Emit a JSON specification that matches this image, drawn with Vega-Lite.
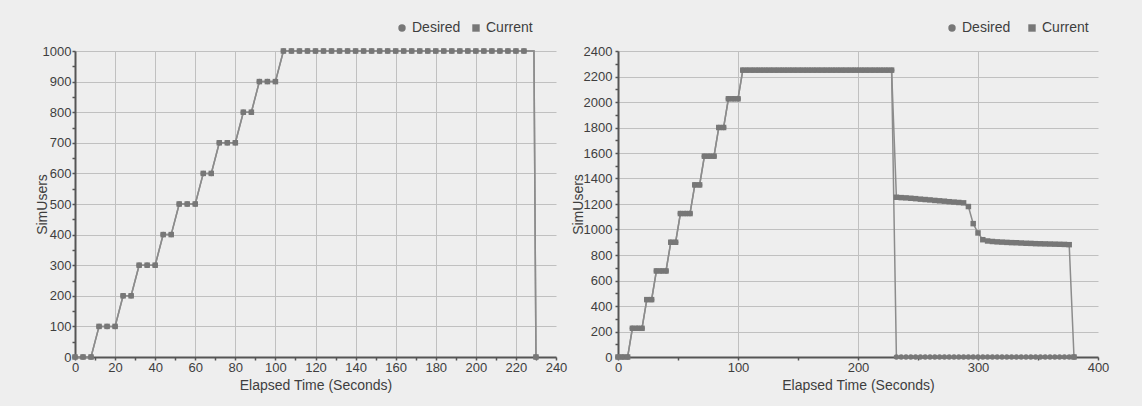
{
  "$schema": "https://vega.github.io/schema/vega-lite/v6.json",
  "background": "#eeeeee",
  "autosize": {"type": "pad"},
  "padding": {"left": 35, "top": 21, "right": 40, "bottom": 30},
  "spacing": 62,
  "bounds": "flush",
  "resolve": {"scale": {"shape": "independent"}, "legend": {"shape": "independent"}},
  "config": {
    "view": {"stroke": null},
    "font": "Liberation Sans",
    "axis": {
      "labelFont": "Liberation Sans",
      "titleFont": "Liberation Sans",
      "labelFontSize": 13,
      "titleFontSize": 14,
      "titleFontWeight": "normal",
      "labelColor": "#3e3e3e",
      "titleColor": "#3e3e3e",
      "domainColor": "#555555",
      "domainWidth": 2,
      "tickColor": "#555555",
      "tickSize": 3,
      "tickWidth": 1.5,
      "gridColor": "#c0c0c0",
      "gridWidth": 1,
      "labelOverlap": false,
      "labelFlush": false,
      "labelPadding": 1,
      "titlePadding": 4,
      "format": "d"
    },
    "legend": {
      "orient": "none",
      "direction": "horizontal",
      "labelFont": "Liberation Sans",
      "labelFontSize": 14,
      "labelColor": "#3e3e3e",
      "symbolSize": 55,
      "symbolStrokeWidth": 0,
      "padding": 0,
      "labelOffset": 3
    }
  },
  "datasets": {
    "left": [
      {"t": 0, "Desired": 0, "Current": 0},
      {"t": 4, "Desired": 0, "Current": 0},
      {"t": 8, "Desired": 0, "Current": 0},
      {"t": 12, "Desired": 100, "Current": 100},
      {"t": 16, "Desired": 100, "Current": 100},
      {"t": 20, "Desired": 100, "Current": 100},
      {"t": 24, "Desired": 200, "Current": 200},
      {"t": 28, "Desired": 200, "Current": 200},
      {"t": 32, "Desired": 300, "Current": 300},
      {"t": 36, "Desired": 300, "Current": 300},
      {"t": 40, "Desired": 300, "Current": 300},
      {"t": 44, "Desired": 400, "Current": 400},
      {"t": 48, "Desired": 400, "Current": 400},
      {"t": 52, "Desired": 500, "Current": 500},
      {"t": 56, "Desired": 500, "Current": 500},
      {"t": 60, "Desired": 500, "Current": 500},
      {"t": 64, "Desired": 600, "Current": 600},
      {"t": 68, "Desired": 600, "Current": 600},
      {"t": 72, "Desired": 700, "Current": 700},
      {"t": 76, "Desired": 700, "Current": 700},
      {"t": 80, "Desired": 700, "Current": 700},
      {"t": 84, "Desired": 800, "Current": 800},
      {"t": 88, "Desired": 800, "Current": 800},
      {"t": 92, "Desired": 900, "Current": 900},
      {"t": 96, "Desired": 900, "Current": 900},
      {"t": 100, "Desired": 900, "Current": 900},
      {"t": 104, "Desired": 1000, "Current": 1000},
      {"t": 108, "Desired": 1000, "Current": 1000},
      {"t": 112, "Desired": 1000, "Current": 1000},
      {"t": 116, "Desired": 1000, "Current": 1000},
      {"t": 120, "Desired": 1000, "Current": 1000},
      {"t": 124, "Desired": 1000, "Current": 1000},
      {"t": 128, "Desired": 1000, "Current": 1000},
      {"t": 132, "Desired": 1000, "Current": 1000},
      {"t": 136, "Desired": 1000, "Current": 1000},
      {"t": 140, "Desired": 1000, "Current": 1000},
      {"t": 144, "Desired": 1000, "Current": 1000},
      {"t": 148, "Desired": 1000, "Current": 1000},
      {"t": 152, "Desired": 1000, "Current": 1000},
      {"t": 156, "Desired": 1000, "Current": 1000},
      {"t": 160, "Desired": 1000, "Current": 1000},
      {"t": 164, "Desired": 1000, "Current": 1000},
      {"t": 168, "Desired": 1000, "Current": 1000},
      {"t": 172, "Desired": 1000, "Current": 1000},
      {"t": 176, "Desired": 1000, "Current": 1000},
      {"t": 180, "Desired": 1000, "Current": 1000},
      {"t": 184, "Desired": 1000, "Current": 1000},
      {"t": 188, "Desired": 1000, "Current": 1000},
      {"t": 192, "Desired": 1000, "Current": 1000},
      {"t": 196, "Desired": 1000, "Current": 1000},
      {"t": 200, "Desired": 1000, "Current": 1000},
      {"t": 204, "Desired": 1000, "Current": 1000},
      {"t": 208, "Desired": 1000, "Current": 1000},
      {"t": 212, "Desired": 1000, "Current": 1000},
      {"t": 216, "Desired": 1000, "Current": 1000},
      {"t": 220, "Desired": 1000, "Current": 1000},
      {"t": 224, "Desired": 1000, "Current": 1000},
      {"t": 229, "Desired": 1000, "Current": 1000},
      {"t": 230, "Desired": 0, "Current": 0}
    ],
    "right": [
      {"t": 0, "Desired": 0, "Current": 0},
      {"t": 4, "Desired": 0, "Current": 0},
      {"t": 8, "Desired": 0, "Current": 0},
      {"t": 12, "Desired": 225, "Current": 225},
      {"t": 16, "Desired": 225, "Current": 225},
      {"t": 20, "Desired": 225, "Current": 225},
      {"t": 24, "Desired": 450, "Current": 450},
      {"t": 28, "Desired": 450, "Current": 450},
      {"t": 32, "Desired": 675, "Current": 675},
      {"t": 36, "Desired": 675, "Current": 675},
      {"t": 40, "Desired": 675, "Current": 675},
      {"t": 44, "Desired": 900, "Current": 900},
      {"t": 48, "Desired": 900, "Current": 900},
      {"t": 52, "Desired": 1125, "Current": 1125},
      {"t": 56, "Desired": 1125, "Current": 1125},
      {"t": 60, "Desired": 1125, "Current": 1125},
      {"t": 64, "Desired": 1350, "Current": 1350},
      {"t": 68, "Desired": 1350, "Current": 1350},
      {"t": 72, "Desired": 1575, "Current": 1575},
      {"t": 76, "Desired": 1575, "Current": 1575},
      {"t": 80, "Desired": 1575, "Current": 1575},
      {"t": 84, "Desired": 1800, "Current": 1800},
      {"t": 88, "Desired": 1800, "Current": 1800},
      {"t": 92, "Desired": 2025, "Current": 2025},
      {"t": 96, "Desired": 2025, "Current": 2025},
      {"t": 100, "Desired": 2025, "Current": 2025},
      {"t": 104, "Desired": 2250, "Current": 2250},
      {"t": 108, "Desired": 2250, "Current": 2250},
      {"t": 112, "Desired": 2250, "Current": 2250},
      {"t": 116, "Desired": 2250, "Current": 2250},
      {"t": 120, "Desired": 2250, "Current": 2250},
      {"t": 124, "Desired": 2250, "Current": 2250},
      {"t": 128, "Desired": 2250, "Current": 2250},
      {"t": 132, "Desired": 2250, "Current": 2250},
      {"t": 136, "Desired": 2250, "Current": 2250},
      {"t": 140, "Desired": 2250, "Current": 2250},
      {"t": 144, "Desired": 2250, "Current": 2250},
      {"t": 148, "Desired": 2250, "Current": 2250},
      {"t": 152, "Desired": 2250, "Current": 2250},
      {"t": 156, "Desired": 2250, "Current": 2250},
      {"t": 160, "Desired": 2250, "Current": 2250},
      {"t": 164, "Desired": 2250, "Current": 2250},
      {"t": 168, "Desired": 2250, "Current": 2250},
      {"t": 172, "Desired": 2250, "Current": 2250},
      {"t": 176, "Desired": 2250, "Current": 2250},
      {"t": 180, "Desired": 2250, "Current": 2250},
      {"t": 184, "Desired": 2250, "Current": 2250},
      {"t": 188, "Desired": 2250, "Current": 2250},
      {"t": 192, "Desired": 2250, "Current": 2250},
      {"t": 196, "Desired": 2250, "Current": 2250},
      {"t": 200, "Desired": 2250, "Current": 2250},
      {"t": 204, "Desired": 2250, "Current": 2250},
      {"t": 208, "Desired": 2250, "Current": 2250},
      {"t": 212, "Desired": 2250, "Current": 2250},
      {"t": 216, "Desired": 2250, "Current": 2250},
      {"t": 220, "Desired": 2250, "Current": 2250},
      {"t": 224, "Desired": 2250, "Current": 2250},
      {"t": 228, "Desired": 2250, "Current": 2250},
      {"t": 232, "Desired": 0, "Current": 1253},
      {"t": 236, "Desired": 0, "Current": 1250},
      {"t": 240, "Desired": 0, "Current": 1248},
      {"t": 244, "Desired": 0, "Current": 1245},
      {"t": 248, "Desired": 0, "Current": 1242},
      {"t": 252, "Desired": 0, "Current": 1238},
      {"t": 256, "Desired": 0, "Current": 1235},
      {"t": 260, "Desired": 0, "Current": 1232},
      {"t": 264, "Desired": 0, "Current": 1228},
      {"t": 268, "Desired": 0, "Current": 1225},
      {"t": 272, "Desired": 0, "Current": 1222},
      {"t": 276, "Desired": 0, "Current": 1218},
      {"t": 280, "Desired": 0, "Current": 1215},
      {"t": 284, "Desired": 0, "Current": 1212},
      {"t": 288, "Desired": 0, "Current": 1209},
      {"t": 292, "Desired": 0, "Current": 1180},
      {"t": 296, "Desired": 0, "Current": 1046},
      {"t": 300, "Desired": 0, "Current": 973},
      {"t": 304, "Desired": 0, "Current": 920},
      {"t": 308, "Desired": 0, "Current": 910},
      {"t": 312, "Desired": 0, "Current": 906},
      {"t": 316, "Desired": 0, "Current": 903},
      {"t": 320, "Desired": 0, "Current": 901},
      {"t": 324, "Desired": 0, "Current": 899},
      {"t": 328, "Desired": 0, "Current": 897},
      {"t": 332, "Desired": 0, "Current": 896},
      {"t": 336, "Desired": 0, "Current": 894},
      {"t": 340, "Desired": 0, "Current": 892},
      {"t": 344, "Desired": 0, "Current": 891},
      {"t": 348, "Desired": 0, "Current": 889},
      {"t": 352, "Desired": 0, "Current": 888},
      {"t": 356, "Desired": 0, "Current": 887},
      {"t": 360, "Desired": 0, "Current": 886},
      {"t": 364, "Desired": 0, "Current": 885},
      {"t": 368, "Desired": 0, "Current": 884},
      {"t": 372, "Desired": 0, "Current": 883},
      {"t": 376, "Desired": 0, "Current": 881},
      {"t": 380, "Desired": 0, "Current": 0}
    ]
  },
  "hconcat": [
    {
      "width": 481,
      "height": 306,
      "data": {"name": "left"},
      "transform": [{"fold": ["Desired", "Current"], "as": ["series", "users"]}],
      "encoding": {
        "x": {
          "field": "t", "type": "quantitative",
          "scale": {"domain": [0, 240], "nice": false},
          "axis": {
            "title": "Elapsed Time (Seconds)",
            "values": [0,10,20,30,40,50,60,70,80,90,100,110,120,130,140,150,160,170,180,190,200,210,220,230,240],
            "labelExpr": "datum.value % 20 === 0 ? datum.label : ''",
            "gridOpacity": {"condition": {"test": "datum.value % 20 === 0 && datum.value < 240", "value": 1}, "value": 0}
          }
        },
        "y": {
          "field": "users", "type": "quantitative",
          "scale": {"domain": [0, 1000], "nice": false},
          "axis": {
            "title": "SimUsers",
            "titleX": -29,
            "titleY": 153,
            "titleBaseline": "alphabetic",
            "values": [0,50,100,150,200,250,300,350,400,450,500,550,600,650,700,750,800,850,900,950,1000],
            "labelExpr": "datum.value % 100 === 0 ? datum.label : ''",
            "gridOpacity": {"condition": {"test": "datum.value % 100 === 0", "value": 1}, "value": 0}
          }
        }
      },
      "layer": [
        {
          "mark": {"type": "line", "color": "#8c8c8c", "strokeWidth": 1.5},
          "encoding": {"detail": {"field": "series"}}
        },
        {
          "transform": [{"filter": "datum.t !== 229"}],
          "mark": {"type": "point", "filled": true, "opacity": 1, "color": "#777777", "size": 30},
          "encoding": {
            "shape": {
              "field": "series", "type": "nominal",
              "scale": {"domain": ["Desired", "Current"], "range": ["circle", "square"]},
              "legend": {"title": null, "legendX": 320, "legendY": -30, "columnPadding": 8}
            }
          }
        }
      ]
    },
    {
      "width": 480,
      "height": 306,
      "data": {"name": "right"},
      "transform": [{"fold": ["Desired", "Current"], "as": ["series", "users"]}],
      "encoding": {
        "x": {
          "field": "t", "type": "quantitative",
          "scale": {"domain": [0, 400], "nice": false},
          "axis": {
            "title": "Elapsed Time (Seconds)",
            "values": [0,50,100,150,200,250,300,350,400],
            "labelExpr": "datum.value % 100 === 0 ? datum.label : ''",
            "gridOpacity": {"condition": {"test": "datum.value % 100 === 0 && datum.value < 400", "value": 1}, "value": 0}
          }
        },
        "y": {
          "field": "users", "type": "quantitative",
          "scale": {"domain": [0, 2400], "nice": false},
          "axis": {
            "title": "SimUsers",
            "titleX": -36,
            "titleY": 153,
            "titleBaseline": "alphabetic",
            "labelPadding": 3,
            "values": [0,100,200,300,400,500,600,700,800,900,1000,1100,1200,1300,1400,1500,1600,1700,1800,1900,2000,2100,2200,2300,2400],
            "labelExpr": "datum.value % 200 === 0 ? datum.label : ''",
            "gridOpacity": {"condition": {"test": "datum.value % 200 === 0", "value": 1}, "value": 0}
          }
        }
      },
      "layer": [
        {
          "mark": {"type": "line", "color": "#8c8c8c", "strokeWidth": 1.5},
          "encoding": {"detail": {"field": "series"}}
        },
        {
          "mark": {"type": "point", "filled": true, "opacity": 1, "color": "#777777", "size": 30},
          "encoding": {
            "shape": {
              "field": "series", "type": "nominal",
              "scale": {"domain": ["Desired", "Current"], "range": ["circle", "square"]},
              "legend": {"title": null, "legendX": 327, "legendY": -30, "columnPadding": 14}
            }
          }
        }
      ]
    }
  ]
}
